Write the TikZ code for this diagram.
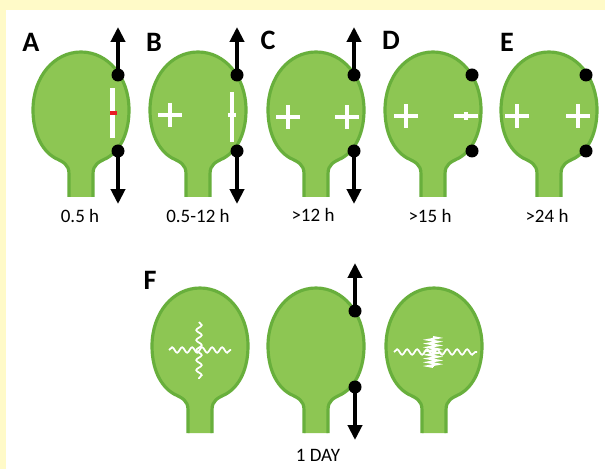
\documentclass[tikz,border=0pt]{standalone}
\usepackage{fontspec}
\setmainfont{Carlito}
\usetikzlibrary{arrows.meta,decorations.pathmorphing}

\definecolor{paper}{RGB}{255,250,200}
\definecolor{leaffill}{RGB}{141,198,83}
\definecolor{leafrim}{RGB}{104,175,60}
\definecolor{cutred}{RGB}{232,28,36}

% open outline of one leaf: left stem foot, round blade, right stem foot
\newcommand{\leafpath}{(-12,145) -- (-12,122) .. controls (-12,112) and (-18,110) .. (-26,106)
  .. controls (-40,98) and (-48,80) .. (-48,58) .. controls (-48,25) and (-27,0) .. (0,0)
  .. controls (27,0) and (48,25) .. (48,58) .. controls (48,80) and (40,98) .. (26,106)
  .. controls (18,110) and (12,112) .. (12,122) -- (12,145)}

\tikzset{
  cutline/.style={white, line width=2.3pt},
  leaf/.pic={
    \fill[leaffill] \leafpath -- cycle;
    \draw[leafrim, line width=1.8pt] \leafpath;
  },
  cross/.pic={
    \draw[cutline] (-12,0) -- (12,0) (0,-12) -- (0,12);
  },
  pin/.style={fill=black},
  pull/.style={line width=2.1pt, -{Triangle[length=8.5pt,width=8pt]}},
  tag/.style={font=\fontsize{10.8}{12}\selectfont, inner sep=0pt},
  panel/.style={font=\bfseries\fontsize{16}{17}\selectfont, inner sep=0pt},
  wavy/.style={white, line width=1pt, decorate,
    decoration={snake, segment length=0.2cm, amplitude=0.055cm}},
  spring/.style={white, line width=1.1pt, decorate,
    decoration={zigzag, segment length=0.075cm, amplitude=0.1cm}}
}

\begin{document}
\begin{tikzpicture}[x=0.02cm, y=-0.02cm]
  % page
  \fill[paper] (0,0) rectangle (605,469);
  \fill[white] (6,10) rectangle (605,469);

  % --- top row: five leaves ---
  \foreach \cx in {81,198,316,433,549}
    \pic at (\cx,52) {leaf};

  % A: fresh cut with red tip
  \draw[cutline] (112.5,88) -- (112.5,138);
  \fill[cutred] (109.5,111.5) rectangle (116.5,115.5);
  % B: one cross, cut closing
  \pic at (170,115) {cross};
  \draw[cutline] (232,92) -- (232,142) (228,115) -- (236,115);
  % C, D, E: crosses
  \pic at (288,117) {cross};
  \pic at (347,117) {cross};
  \pic at (406,116) {cross};
  \draw[cutline] (454,116) -- (478,116) (466,112) -- (466,120);
  \pic at (517,116) {cross};
  \pic at (578,116) {cross};

  % pulling arrows
  \foreach \p/\x in {A/118,B/237,C/354}{
    \coordinate (\p-hi) at (\x,75);
    \coordinate (\p-lo) at (\x,151);
    \coordinate (\p-up) at (\x,27);
    \coordinate (\p-dn) at (\x,204);
    \draw[pull] (\p-hi) -- (\p-up);
    \draw[pull] (\p-lo) -- (\p-dn);
  }
  % pins
  \foreach \x in {118,237,354,472,586}{
    \fill[pin] (\x,75) circle (6.5);
    \fill[pin] (\x,151) circle (6.5);
  }

  \node[panel] (labA) at (31,42) {A};
  \node[panel] (labB) at (154,42) {B};
  \node[panel] (labC) at (268,40) {C};
  \node[panel] (labD) at (391,40) {D};
  \node[panel] (labE) at (507,42) {E};

  \node[tag] (tA) at (80,216) {0.5 h};
  \node[tag] (tB) at (198,216) {0.5-12 h};
  \node[tag] (tC) at (313,215) {>12 h};
  \node[tag] (tD) at (430,216) {>15 h};
  \node[tag] (tE) at (547,216) {>24 h};

  % --- bottom row ---
  \foreach \cx in {200,316,434}
    \pic at (\cx,288) {leaf};
  \node[panel] (labF) at (150,280) {F};

  % relaxed fibres
  \draw[wavy] (169,350) -- (231,350);
  \draw[wavy] (199,322) -- (199,379);
  % pulled leaf
  \coordinate (F-hi) at (355,311);
  \coordinate (F-lo) at (355,387);
  \coordinate (F-up) at (355,263);
  \coordinate (F-dn) at (355,440);
  \draw[pull] (F-hi) -- (F-up);
  \draw[pull] (F-lo) -- (F-dn);
  \fill[pin] (F-hi) circle (6.5);
  \fill[pin] (F-lo) circle (6.5);
  % compressed fibres
  \draw[wavy] (394,352) -- (477,352);
  \draw[spring] (433,337) -- (433,367);

  \node[tag] (tF) at (318,455) {1 DAY};
\end{tikzpicture}
\end{document}
